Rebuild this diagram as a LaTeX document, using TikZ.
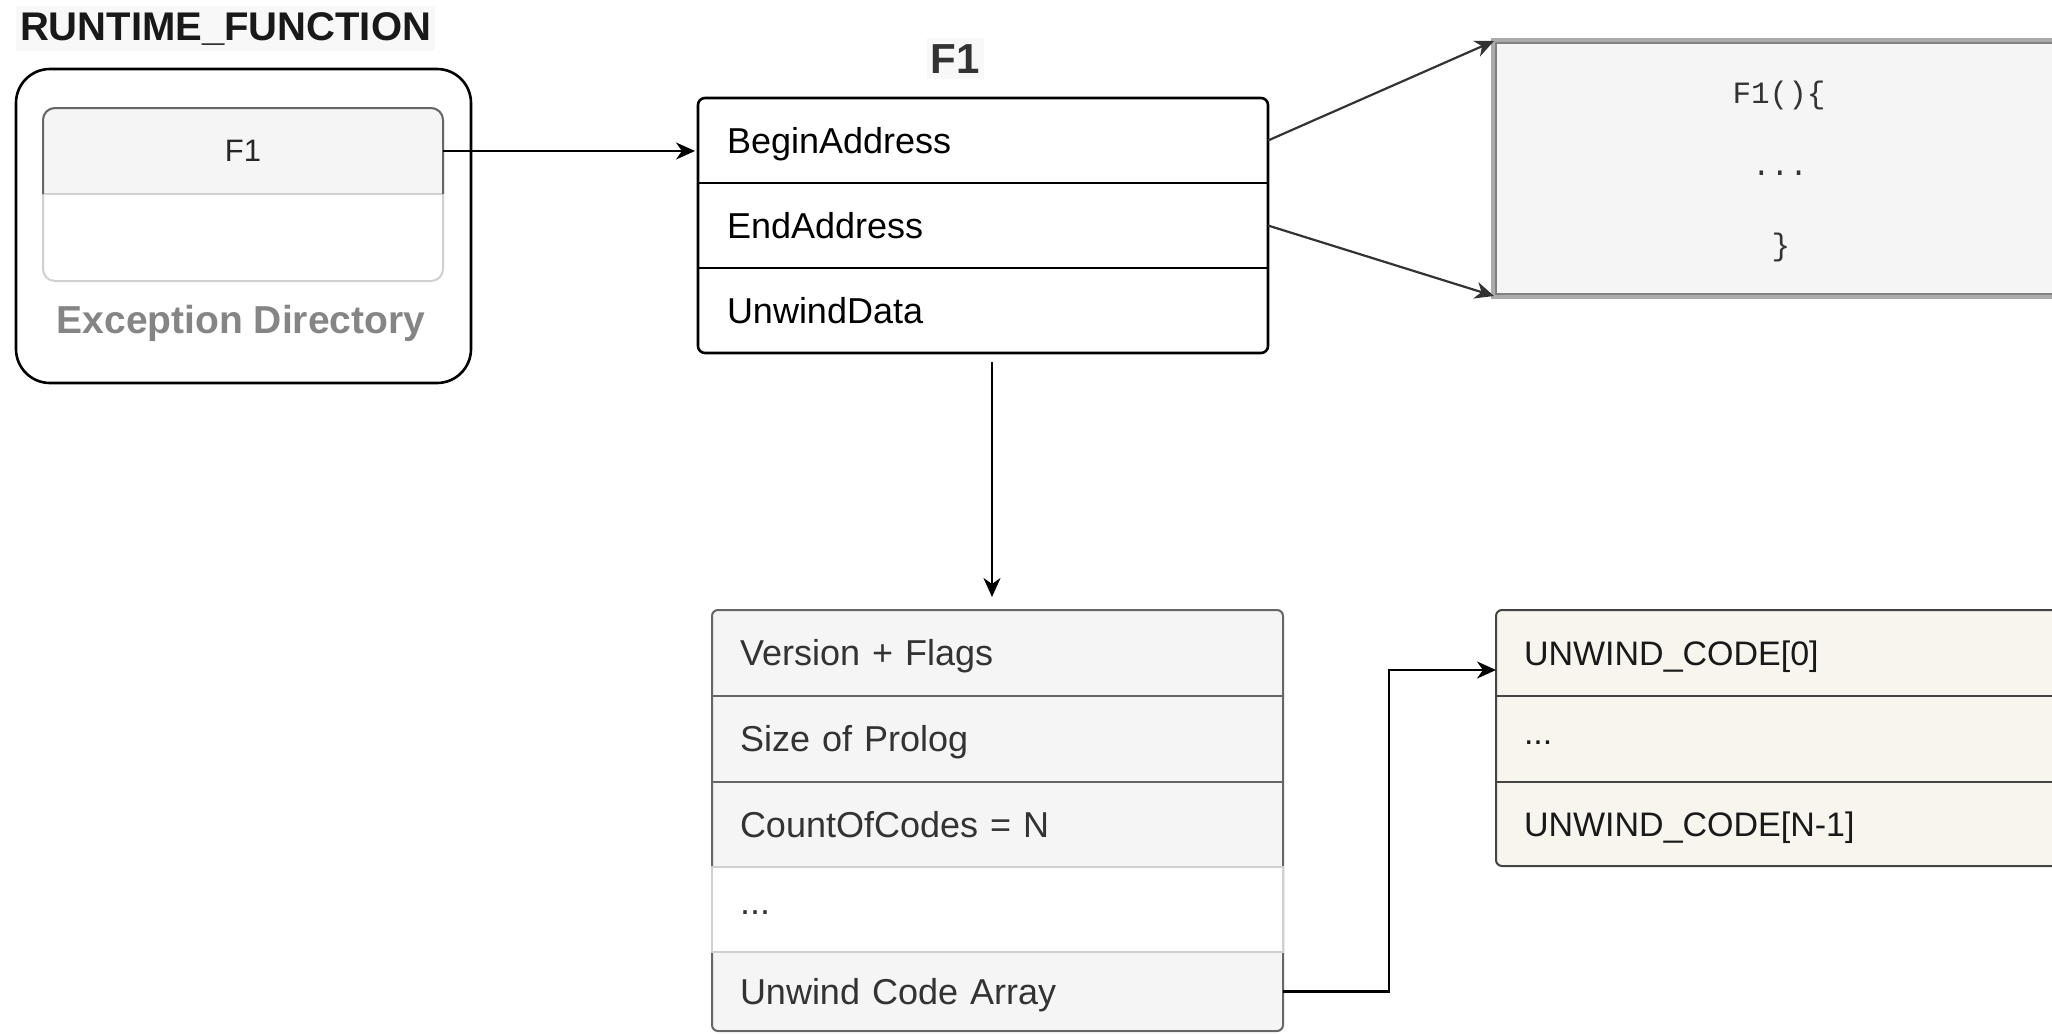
\documentclass[tikz,border=0pt]{standalone}
\usepackage{fontspec}
\setmainfont{Liberation Sans}
\newfontfamily\codefont{Liberation Mono}
\usetikzlibrary{arrows.meta,backgrounds,calc}

\definecolor{ink}{HTML}{333333}
\definecolor{paneFill}{HTML}{F5F5F5}
\definecolor{paneEdge}{HTML}{666666}
\definecolor{faintEdge}{HTML}{D0D0D0}
\definecolor{creamFill}{HTML}{F7F5EE}
\definecolor{creamEdge}{HTML}{444444}
\definecolor{dirGray}{HTML}{858585}
\definecolor{labelBg}{HTML}{F8F8F8}
\definecolor{codeEdgeOut}{HTML}{ABABAB}
\definecolor{codeEdgeIn}{HTML}{808080}

\begin{document}
\begin{tikzpicture}[x=0.5pt,y=-0.5pt,
  every node/.style={outer sep=0pt},
  heading/.style={font=\bfseries\fontsize{20}{24}\selectfont, text=black!90,
    fill=labelBg, inner xsep=2pt, inner ysep=3pt},
  rowbase/.style={anchor=north west, inner ysep=0pt, align=left,
    text height=14pt, text depth=1.5pt, font=\fontsize{18}{21}\selectfont},
  rowF/.style={rowbase, minimum width=285pt, text width=256pt, inner xsep=14.5pt,
    minimum height=42.5pt, text=black},
  rowU/.style={rowbase, minimum width=285.5pt, text width=257.5pt, inner xsep=14pt,
    text=ink},
  rowC/.style={rowbase, minimum width=300pt, text width=272pt, inner xsep=14pt,
    text=black!90, font=\fontsize{17}{20}\selectfont},
  dotsrow/.style={text height=5pt, text depth=0pt},
  codetxt/.style={font=\codefont\fontsize{15.5}{18}\selectfont, text=ink, inner sep=0pt},
  tip/.style={-{Stealth[length=9.5pt,width=8.5pt,inset=3pt]}},
  arr/.style={tip, line width=1.3pt},
  link/.style={tip, line width=1.1pt, draw=ink},
]
\useasboundingbox (0,0) rectangle (2052,1034);
\clip (0,0) rectangle (2052,1034);

% ---------- Exception directory ----------
\node[heading, anchor=base west] (rtf) at (16,40) {RUNTIME\_FUNCTION};
\node[draw, line width=1.3pt, rounded corners=17pt, minimum width=227.5pt,
      minimum height=157pt, anchor=north west] (dir) at (16,69) {};
\node[anchor=north west, minimum width=200pt, minimum height=43pt, inner sep=0pt,
      font=\fontsize{15.5}{18}\selectfont, text=black!85] (hdr) at (43,108) {F1};
\coordinate (dirbox) at (443,281);
\begin{scope}[on background layer]
  \filldraw[fill=white, draw=faintEdge, line width=1pt, rounded corners=6pt]
    (hdr.north west) rectangle (dirbox);
  \begin{scope}
    \clip[rounded corners=6pt] (hdr.north west) rectangle (dirbox);
    \fill[paneFill] (hdr.north west) rectangle (hdr.south east);
  \end{scope}
  \draw[faintEdge, line width=1pt] (hdr.south west) -- (hdr.south east);
  \draw[paneEdge, line width=1pt, rounded corners=6pt]
    (hdr.south west) |- (hdr.north east) -- (hdr.south east);
\end{scope}
\node[anchor=base, font=\bfseries\fontsize{19.5}{23}\selectfont, text=dirGray,
      inner sep=0pt] (dirlbl) at (241,333) {Exception Directory};

% ---------- F1 record ----------
\node[heading, anchor=base, font=\bfseries\fontsize{21}{25}\selectfont, text=ink]
  (f1t) at (955,73) {F1};
\node[rowF] (bA) at (698,98) {BeginAddress};
\node[rowF] (eA) at (bA.south west) {EndAddress};
\node[rowF] (uD) at (eA.south west) {UnwindData};
\begin{scope}[on background layer]
  \filldraw[fill=white, draw=black, line width=1.3pt, rounded corners=3.5pt]
    (bA.north west) rectangle (uD.south east);
\end{scope}
\draw[line width=1.3pt] (bA.south west) -- (bA.south east);
\draw[line width=1.3pt] (eA.south west) -- (eA.south east);

% ---------- function body ----------
\node[anchor=north west, minimum width=300pt, minimum height=127.5pt, inner sep=0pt,
      fill=paneFill] (code) at (1494,41) {};
\draw[codeEdgeOut, line width=3pt] (code.north west) rectangle (code.south east);
\draw[codeEdgeIn, line width=1pt]
  ([shift={(1pt,-1pt)}]code.north west) rectangle ([shift={(-1pt,1pt)}]code.south east);
\node[codetxt] (c1) at (1779,95) {F1()\{};
\node[codetxt] (c2) at (1780,173) {...};
\node[codetxt] (c3) at (1781,247) {\}};

% ---------- unwind info ----------
\node[rowU, minimum height=43pt] (vf) at (712,610) {Version + Flags};
\node[rowU, minimum height=43pt] (sp) at (vf.south west) {Size of Prolog};
\node[rowU, minimum height=42.5pt] (cc) at (sp.south west) {CountOfCodes = N};
\node[rowU, dotsrow, minimum height=42.5pt, fill=white, draw=faintEdge, line width=1pt]
  (gap) at (cc.south west) {...};
\node[rowU, minimum height=39.5pt] (uca) at (gap.south west) {Unwind Code Array};
\begin{scope}[on background layer]
  \filldraw[fill=paneFill, draw=paneEdge, line width=1pt, rounded corners=3pt]
    (vf.north west) rectangle (uca.south east);
\end{scope}
\draw[paneEdge, line width=1pt] (vf.south west) -- (vf.south east);
\draw[paneEdge, line width=1pt] (sp.south west) -- (sp.south east);

% ---------- unwind codes ----------
\node[rowC, minimum height=43pt] (uc0) at (1496,610) {UNWIND\_CODE[0]};
\node[rowC, dotsrow, minimum height=43pt] (ucm) at (uc0.south west) {...};
\node[rowC, minimum height=42pt] (ucn) at (ucm.south west) {UNWIND\_CODE[N-1]};
\begin{scope}[on background layer]
  \filldraw[fill=creamFill, draw=creamEdge, line width=1pt, rounded corners=3pt]
    (uc0.north west) rectangle (ucn.south east);
\end{scope}
\draw[creamEdge, line width=1pt] (uc0.south west) -- (uc0.south east);
\draw[creamEdge, line width=1pt] (ucm.south west) -- (ucm.south east);

% ---------- connectors ----------
\draw[arr, shorten >=1.5pt] (hdr.east) -- (hdr.east -| bA.west);
\draw[link] (bA.east) -- (code.north west);
\draw[link] (eA.east) -- (code.south west);
\draw[arr, shorten <=4.5pt, shorten >=6.5pt]
  ([xshift=4.5pt]uD.south) -- ([xshift=4.5pt]uD.south |- vf.north);
\draw[arr] (uca.east) -- ++(106,0) |- ([yshift=-8.5pt]uc0.west);
\end{tikzpicture}
\end{document}
